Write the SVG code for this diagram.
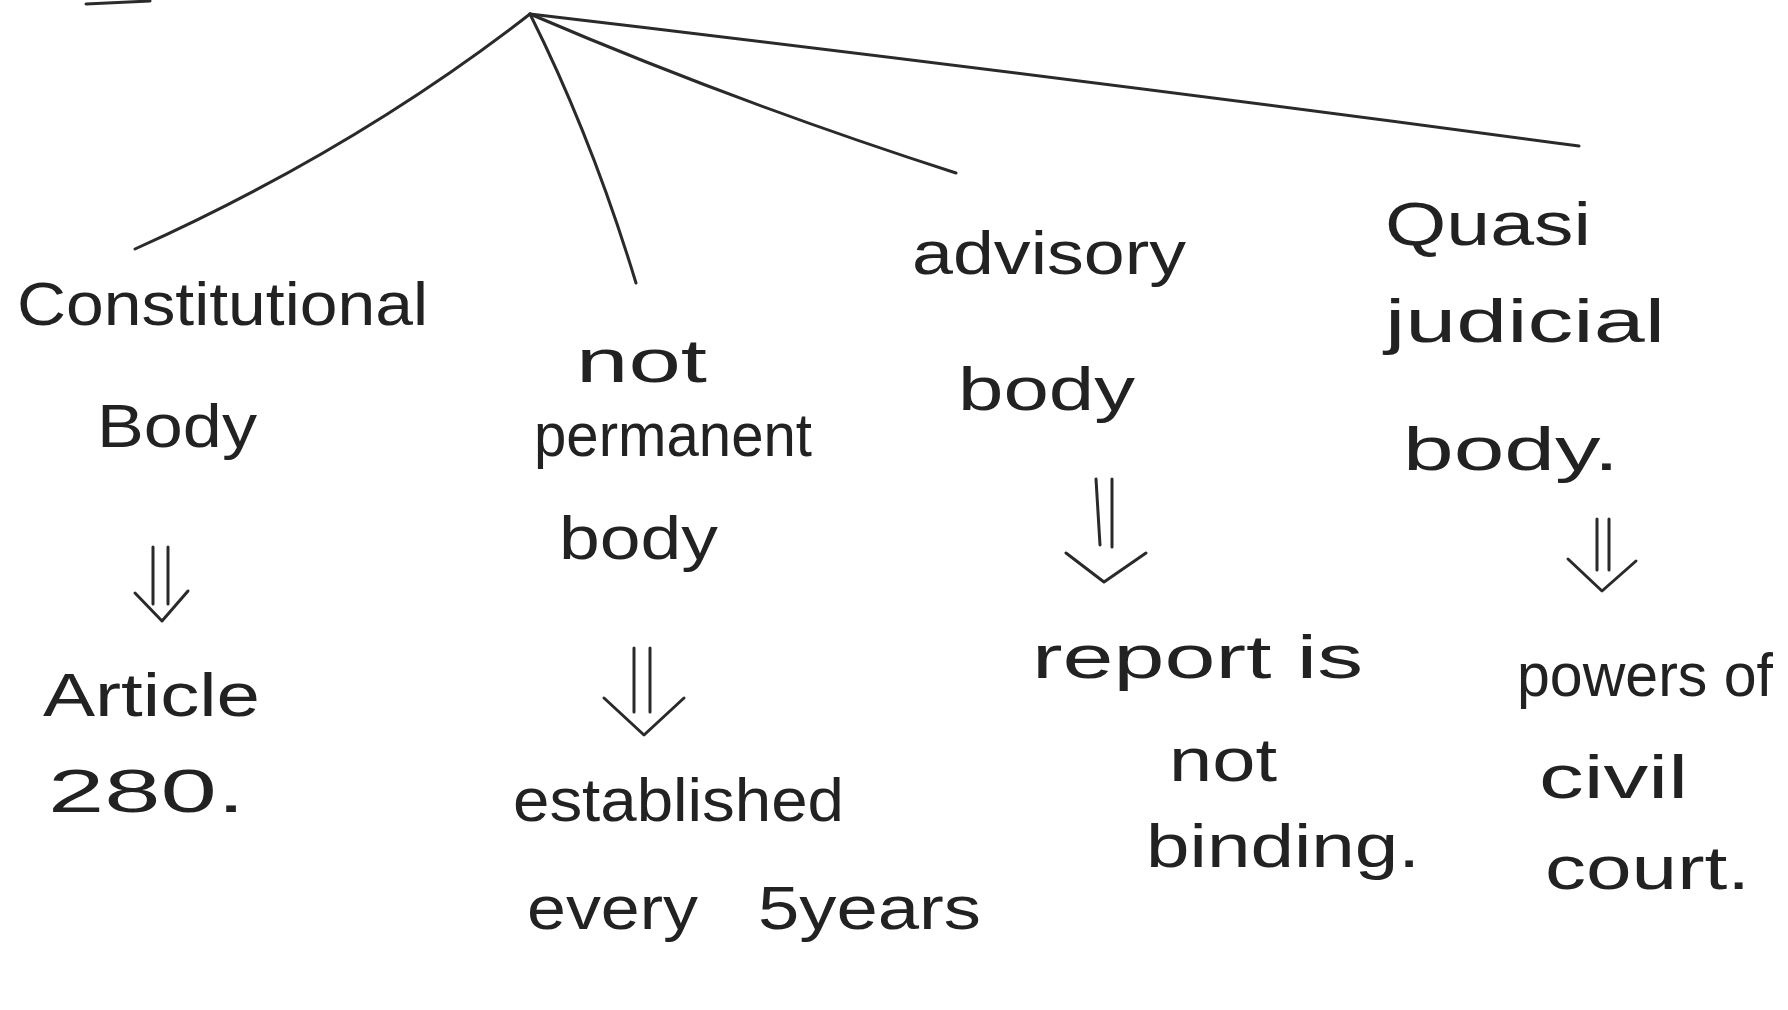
<svg xmlns="http://www.w3.org/2000/svg" width="1788" height="1010" viewBox="0 0 1788 1010">
<style>
.t{font-family:"Liberation Sans","DejaVu Sans",sans-serif;font-size:62px;fill:#222}
.c{fill:none;stroke:#2a2a2a;stroke-width:3;stroke-linecap:round;stroke-linejoin:round}
.a{fill:none;stroke:#2a2a2a;stroke-width:3;stroke-linecap:round;stroke-linejoin:round}
</style>
<rect width="1788" height="1010" fill="#fff"/>
<g id="connectors">
<path class="c" d="M86 4 L150 1" stroke-width="5"/>
<path class="c" d="M530 14 Q 355 150 135 249"/>
<path class="c" d="M530 14 Q 592 138 636 283"/>
<path class="c" d="M530 14 Q 735 102 956 173"/>
<path class="c" d="M530 14 Q 1050 75 1579 146"/>
<g id="arrow1"><path class="a" d="M153 547 L153 604 M168 547 L168 604 M135 593 L162 621 L188 591"/></g>
<g id="arrow2"><path class="a" d="M634 648 L634 712 M650 648 L650 712 M604 698 L644 735 L684 698"/></g>
<g id="arrow3"><path class="a" d="M1096 479 L1100 545 M1112 479 L1112 547 M1066 553 L1104 582 L1146 553"/></g>
<g id="arrow4"><path class="a" d="M1597 519 L1597 570 M1609 519 L1609 570 M1568 559 L1602 591 L1636 561"/></g>
</g>
<g id="node-constitutional">
<text class="t" x="17" y="325" textLength="411" lengthAdjust="spacingAndGlyphs">Constitutional</text>
<text class="t" x="97" y="447" textLength="160" lengthAdjust="spacingAndGlyphs">Body</text>
</g>
<g id="node-article">
<text class="t" x="43" y="716" textLength="217" lengthAdjust="spacingAndGlyphs">Article</text>
<text class="t" x="48" y="812" textLength="197" lengthAdjust="spacingAndGlyphs">280.</text>
</g>
<g id="node-not-permanent">
<text class="t" x="576" y="382" textLength="131" lengthAdjust="spacingAndGlyphs">not</text>
<text class="t" x="534" y="456" textLength="278" lengthAdjust="spacingAndGlyphs">permanent</text>
<text class="t" x="559" y="559" textLength="159" lengthAdjust="spacingAndGlyphs">body</text>
</g>
<g id="node-established">
<text class="t" x="513" y="821" textLength="331" lengthAdjust="spacingAndGlyphs">established</text>
<text class="t" x="527" y="929" textLength="171" lengthAdjust="spacingAndGlyphs">every</text>
<text class="t" x="758" y="929" textLength="223" lengthAdjust="spacingAndGlyphs">5years</text>
</g>
<g id="node-advisory">
<text class="t" x="912" y="274" textLength="274" lengthAdjust="spacingAndGlyphs">advisory</text>
<text class="t" x="958" y="410" textLength="177" lengthAdjust="spacingAndGlyphs">body</text>
</g>
<g id="node-report">
<text class="t" x="1032" y="678" textLength="331" lengthAdjust="spacingAndGlyphs">report is</text>
<text class="t" x="1169" y="781" textLength="108" lengthAdjust="spacingAndGlyphs">not</text>
<text class="t" x="1146" y="867" textLength="274" lengthAdjust="spacingAndGlyphs">binding.</text>
</g>
<g id="node-quasi">
<text class="t" x="1385" y="245" textLength="206" lengthAdjust="spacingAndGlyphs">Quasi</text>
<text class="t" x="1385" y="342" textLength="280" lengthAdjust="spacingAndGlyphs">judicial</text>
<text class="t" x="1403" y="470" textLength="216" lengthAdjust="spacingAndGlyphs">body.</text>
</g>
<g id="node-powers">
<text class="t" x="1517" y="696" textLength="256" lengthAdjust="spacingAndGlyphs">powers of</text>
<text class="t" x="1539" y="798" textLength="149" lengthAdjust="spacingAndGlyphs">civil</text>
<text class="t" x="1545" y="889" textLength="205" lengthAdjust="spacingAndGlyphs">court.</text>
</g>
</svg>
